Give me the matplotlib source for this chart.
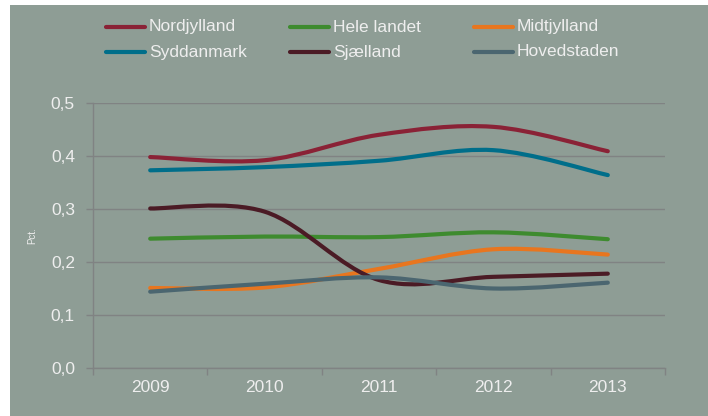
import numpy as np
import matplotlib.pyplot as plt
from matplotlib.path import Path
from matplotlib.patches import PathPatch, Rectangle
from matplotlib.lines import Line2D
from matplotlib.ticker import FuncFormatter

plt.rcParams['font.family'] = ['Liberation Sans', 'DejaVu Sans']

# --- data ---
years = ['2009', '2010', '2011', '2012', '2013']
nordjylland = [0.398, 0.392, 0.440, 0.455, 0.409]
syddanmark = [0.373, 0.379, 0.391, 0.411, 0.364]
hele_landet = [0.244, 0.248, 0.247, 0.256, 0.243]
sjaelland = [0.301, 0.295, 0.166, 0.172, 0.178]
midtjylland = [0.151, 0.152, 0.187, 0.224, 0.214]
hovedstaden = [0.144, 0.159, 0.171, 0.150, 0.161]

series_names = ['Nordjylland', 'Hele landet', 'Midtjylland',
                'Syddanmark', 'Sjælland', 'Hovedstaden']
series_values = [nordjylland, hele_landet, midtjylland,
                 syddanmark, sjaelland, hovedstaden]
series_colors = ['#8A2236', '#3E8B2F', '#E8761F',
                 '#006E8A', '#4B1B25', '#4B6670']

BG = '#8E9D95'
GRID = '#808383'
TXT = '#EEEEEE'


def smooth_path(x, y):
    """Excel-like smoothed line: cubic bezier segments (Catmull-Rom)."""
    pts = np.column_stack([x, y]).astype(float)
    n = len(pts)
    verts = [pts[0]]
    codes = [Path.MOVETO]
    for i in range(n - 1):
        p0 = pts[max(i - 1, 0)]
        p1 = pts[i]
        p2 = pts[i + 1]
        p3 = pts[min(i + 2, n - 1)]
        c1 = p1 + (p2 - p0) / 6.0
        c2 = p2 - (p3 - p1) / 6.0
        verts += [c1, c2, p2]
        codes += [Path.CURVE4] * 3
    return Path(verts, codes)


fig = plt.figure(figsize=(7.08, 4.16), dpi=100, facecolor='white')
# grey panel behind everything
fig.patches.append(Rectangle((10 / 708, 0), 698 / 708, 411 / 416,
                             transform=fig.transFigure, facecolor=BG,
                             edgecolor='none', zorder=-10))

ax = fig.add_axes([93 / 708, 48 / 416, 572 / 708, 265 / 416], zorder=2)
ax.set_facecolor('none')

x = np.arange(len(years))
for name, vals, col in zip(series_names, series_values, series_colors):
    patch = PathPatch(smooth_path(x, vals), facecolor='none', edgecolor=col,
                      lw=3.0, capstyle='round', joinstyle='round', zorder=3)
    ax.add_patch(patch)

ax.set_xlim(-0.5, len(years) - 0.5)
ax.set_ylim(0, 0.5)
ax.set_yticks(np.arange(0, 0.51, 0.1))
ax.yaxis.set_major_formatter(FuncFormatter(lambda v, p: f'{v:.1f}'.replace('.', ',')))
ax.set_xticks(x)
ax.set_xticklabels(years)
ax.set_xticks(np.arange(-0.5, len(years), 1.0), minor=True)

ax.grid(axis='y', color=GRID, lw=1.0, zorder=1)
ax.set_axisbelow(True)
for s in ['top', 'right']:
    ax.spines[s].set_visible(False)
for s in ['left', 'bottom']:
    ax.spines[s].set_color(GRID)
    ax.spines[s].set_linewidth(1.0)

ax.tick_params(axis='x', which='major', length=0, pad=9, labelsize=12.5, labelcolor=TXT)
ax.tick_params(axis='x', which='minor', length=5, color=GRID, width=1.0)
ax.tick_params(axis='y', length=5, color=GRID, width=1.0, pad=8,
               labelsize=12.5, labelcolor=TXT)

ax.set_ylabel('Pct.', fontsize=7, color=TXT, labelpad=10)

# legend, laid out like the Excel original (3 columns x 2 rows)
col_x = [106, 290, 474]
row_y = [27, 52]
for i, (name, col) in enumerate(zip(series_names, series_colors)):
    cx = col_x[i % 3]
    cy = 416 - row_y[i // 3]
    fig.add_artist(Line2D([cx / 708, (cx + 39) / 708], [cy / 416, cy / 416],
                          transform=fig.transFigure, color=col, lw=3.0,
                          solid_capstyle='round'))
    fig.text((cx + 43) / 708, cy / 416, name, fontsize=12.5, color=TXT,
             va='center', ha='left')

fig.savefig('out.png', dpi=100, facecolor='white')
